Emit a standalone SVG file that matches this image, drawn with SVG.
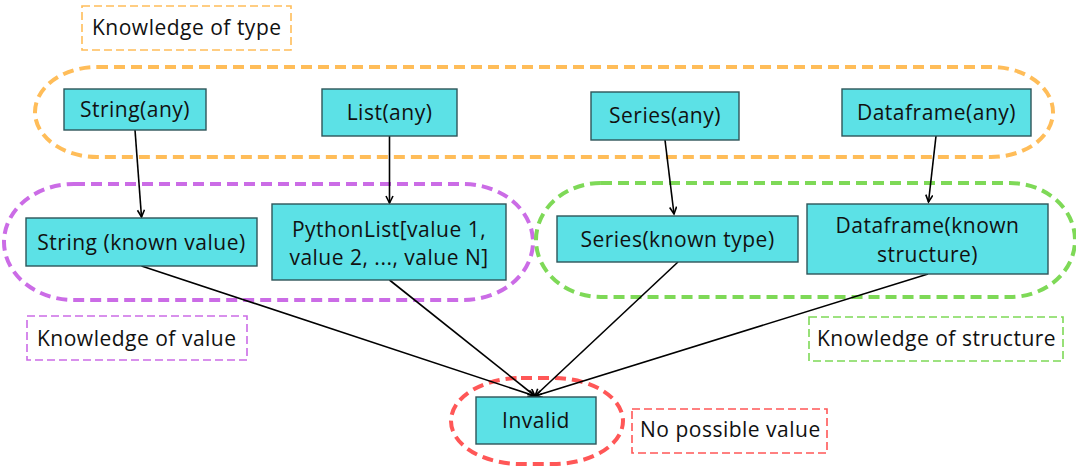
<svg xmlns="http://www.w3.org/2000/svg" width="1076" height="475" viewBox="0 0 1076 475">
<style>
  text { font-family: "Open Sans", "Noto Sans", "DejaVu Sans", sans-serif; font-size: 21px; letter-spacing: 0.5px; fill: #111; }
  .node rect { fill: #5ce1e6; stroke: #2e5559; stroke-width: 1.4; }
  .node text { text-anchor: middle; }
  .group { fill: none; stroke-width: 4; stroke-dasharray: 11 6; }
  .lbl { fill: #fff; stroke-width: 1.6; stroke-dasharray: 8 4; }
  .orange { stroke: #ffbd59; }
  .purple { stroke: #cb6ce6; }
  .green { stroke: #7ed957; }
  .red { stroke: #ff5757; }
  .conn line { stroke: #000; stroke-width: 1.6; marker-end: url(#arr); }
</style>
<defs>
  <marker id="arr" markerUnits="userSpaceOnUse" markerWidth="10" markerHeight="10" refX="8" refY="4" orient="auto">
    <path d="M1,0.5 L8,4 L1,7.5" fill="none" stroke="#000" stroke-width="1.6"/>
  </marker>
</defs>
<rect width="1076" height="475" fill="#fff"/>

<g id="regions">
  <rect class="group orange" x="35" y="67" width="1018" height="90" rx="62" ry="45"/>
  <rect class="group purple" x="4" y="184" width="529" height="116" rx="70" ry="58"/>
  <rect class="group green" x="536" y="183" width="539" height="114" rx="65" ry="57"/>
  <rect class="group red" x="451" y="378" width="172" height="86" rx="70" ry="43"/>
</g>

<g id="label-type">
  <rect class="lbl orange" x="82" y="6" width="209" height="44"/>
  <text x="92" y="35">Knowledge of type</text>
</g>
<g id="label-value">
  <rect class="lbl purple" x="27" y="316" width="220" height="44"/>
  <text x="37" y="346">Knowledge of value</text>
</g>
<g id="label-structure">
  <rect class="lbl green" x="809" y="317" width="254" height="44"/>
  <text x="817" y="346">Knowledge of structure</text>
</g>
<g id="label-none">
  <rect class="lbl red" x="632" y="409" width="195" height="44"/>
  <text x="640" y="437">No possible value</text>
</g>

<g id="connectors" class="conn">
  <line x1="135" y1="130" x2="141.5" y2="217"/>
  <line x1="389.5" y1="136" x2="389.5" y2="203"/>
  <line x1="665" y1="140" x2="674" y2="214"/>
  <line x1="936" y1="136" x2="928.5" y2="202"/>
  <line x1="141.5" y1="266" x2="535" y2="396"/>
  <line x1="389.5" y1="280" x2="535" y2="396"/>
  <line x1="678" y1="262" x2="535" y2="396"/>
  <line x1="928" y1="274" x2="535" y2="396"/>
</g>

<g id="n-string-any" class="node">
  <rect x="64" y="89" width="142" height="41"/>
  <text x="135" y="117">String(any)</text>
</g>
<g id="n-list-any" class="node">
  <rect x="322" y="89" width="135" height="47"/>
  <text x="389.5" y="120">List(any)</text>
</g>
<g id="n-series-any" class="node">
  <rect x="591" y="92" width="148" height="48"/>
  <text x="665" y="123">Series(any)</text>
</g>
<g id="n-dataframe-any" class="node">
  <rect x="842" y="89" width="189" height="47"/>
  <text x="936.5" y="120">Dataframe(any)</text>
</g>
<g id="n-string-known" class="node">
  <rect x="26" y="218" width="231" height="48"/>
  <text x="141.5" y="250">String (known value)</text>
</g>
<g id="n-pythonlist" class="node">
  <rect x="272" y="204" width="234" height="76"/>
  <text x="389" y="236.5">PythonList[value 1,</text>
  <text x="389" y="265">value 2, ..., value N]</text>
</g>
<g id="n-series-known" class="node">
  <rect x="557" y="216" width="241" height="46"/>
  <text x="677.5" y="246.5">Series(known type)</text>
</g>
<g id="n-dataframe-known" class="node">
  <rect x="807" y="204" width="241" height="70"/>
  <text x="927.5" y="233">Dataframe(known</text>
  <text x="927.5" y="261.5">structure)</text>
</g>
<g id="n-invalid" class="node">
  <rect x="476" y="397" width="120" height="47"/>
  <text x="536" y="428">Invalid</text>
</g>
</svg>
